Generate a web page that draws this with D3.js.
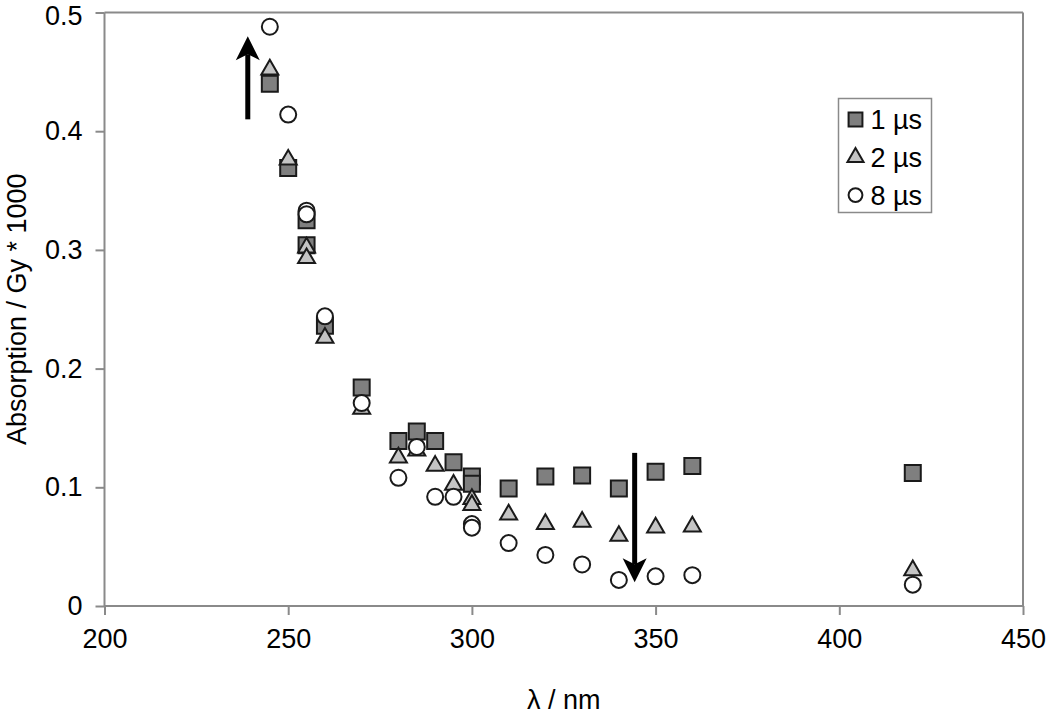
<!DOCTYPE html>
<html>
<head>
<meta charset="utf-8">
<script src="https://cdn.jsdelivr.net/npm/d3@7"></script>
<style>
  body { margin: 0; background: #fff; }
  text { font-family: "Liberation Sans", Arial, sans-serif; fill: #000; }
</style>
</head>
<body>
<div id="chart"></div>
<script>
// wavelengths (nm), duplicates at 255 and 300 are repeat measurements
const lambdas = [245, 250, 255, 255, 260, 270, 280, 285, 290, 295, 300, 300, 310, 320, 330, 340, 350, 360, 420];
const abs1us = [0.440, 0.369, 0.325, 0.304, 0.236, 0.184, 0.139, 0.147, 0.139, 0.121, 0.109, 0.103, 0.099, 0.109, 0.110, 0.099, 0.113, 0.118, 0.112];
const abs2us = [0.452, 0.376, 0.302, 0.293, 0.226, 0.166, 0.125, 0.131, 0.118, 0.102, 0.090, 0.085, 0.077, 0.069, 0.071, 0.059, 0.066, 0.067, 0.030];
const abs8us = [0.488, 0.414, 0.333, 0.330, 0.244, 0.171, 0.108, 0.134, 0.092, 0.092, 0.069, 0.066, 0.053, 0.043, 0.035, 0.022, 0.025, 0.026, 0.018];
const seriesNames = ["1 µs", "2 µs", "8 µs"];
const xTicks = [200, 250, 300, 350, 400, 450];
const yTicks = [0, 0.1, 0.2, 0.3, 0.4, 0.5];
// trend arrows: [lambda, from, to]
const arrows = [[239, 0.410, 0.480], [344.3, 0.129, 0.020]];

const W = 1050, H = 714;
const margin = {top: 12.5, right: 27, bottom: 108, left: 104.5};
const width = W - margin.left - margin.right,
      height = H - margin.top - margin.bottom;
const fontSize = "27px";

const svg = d3.select("#chart").append("svg")
    .attr("width", W)
    .attr("height", H);

const g = svg.append("g")
    .attr("transform", "translate(" + margin.left + "," + margin.top + ")");

const x = d3.scaleLinear().domain([200, 450]).range([0, width]);
const y = d3.scaleLinear().domain([0, 0.5]).range([height, 0]);

const axisColor = "#8a8a8a";

// frame (top and right)
g.append("line").attr("x1", 0).attr("x2", width).attr("y1", 0).attr("y2", 0)
    .style("stroke", axisColor).style("stroke-width", 2);
g.append("line").attr("x1", width).attr("x2", width).attr("y1", 0).attr("y2", height)
    .style("stroke", axisColor).style("stroke-width", 2);

const xAxis = d3.axisBottom(x).tickValues(xTicks).tickSize(9).tickPadding(14)
    .tickFormat(d3.format("d"));
const yAxis = d3.axisLeft(y).tickValues(yTicks).tickSize(9).tickPadding(13)
    .tickFormat(d => d === 0 ? "0" : d.toFixed(1));

const gx = g.append("g").attr("transform", "translate(0," + height + ")").call(xAxis);
const gy = g.append("g").call(yAxis);

[gx, gy].forEach(a => {
    a.select(".domain").style("stroke", axisColor).style("stroke-width", 2);
    a.selectAll(".tick line").style("stroke", axisColor).style("stroke-width", 2);
    a.selectAll(".tick text").style("font-size", fontSize).style("fill", "#000");
});
gx.select(".domain").attr("d", "M0,0H" + width);
gy.select(".domain").attr("d", "M0," + height + "V0");
// top label sits right at the edge, nudge it down a little
gy.selectAll(".tick text").filter(d => d === 0.5).attr("y", 3);

// axis titles
svg.append("text")
    .attr("x", margin.left + width / 2)
    .attr("y", 709)
    .style("text-anchor", "middle")
    .style("font-size", fontSize)
    .text("λ / nm");

svg.append("text")
    .attr("transform", "translate(26," + (margin.top + height / 2) + ") rotate(-90)")
    .style("text-anchor", "middle")
    .style("font-size", fontSize)
    .text("Absorption / Gy * 1000");

// markers
const sq = 16;
const markerStyles = [
    {shape: d3.symbolSquare, size: sq * sq, fill: "#7f7f7f"},
    {shape: d3.symbolTriangle, size: 125, fill: "#c4c4c4"},
    {shape: d3.symbolCircle, size: Math.PI * 8 * 8, fill: "#ffffff"}
];
const seriesData = [abs1us, abs2us, abs8us];

seriesData.forEach((vals, si) => {
    const st = markerStyles[si];
    const pts = lambdas.map((l, i) => ({l: l, v: vals[i]}));
    g.append("g").selectAll("path")
        .data(pts)
        .enter().append("path")
        .attr("transform", d => "translate(" + x(d.l) + "," + y(d.v) + ")")
        .attr("d", d3.symbol().type(st.shape).size(st.size))
        .style("fill", st.fill)
        .style("stroke", "#1a1a1a")
        .style("stroke-width", 2);
});

// arrows
arrows.forEach(a => {
    const ax = x(a[0]), y0 = y(a[1]), y1 = y(a[2]);
    const dir = y1 < y0 ? -1 : 1;
    const headH = 24, headW = 12, notch = 6;
    g.append("line")
        .attr("x1", ax).attr("x2", ax)
        .attr("y1", y0).attr("y2", y1 - dir * (headH - notch))
        .style("stroke", "#000").style("stroke-width", 5);
    g.append("path")
        .attr("d", "M" + ax + "," + y1 +
            "L" + (ax + headW) + "," + (y1 - dir * headH) +
            "L" + ax + "," + (y1 - dir * (headH - notch)) +
            "L" + (ax - headW) + "," + (y1 - dir * headH) + "Z")
        .style("fill", "#000");
});

// legend
const legend = svg.append("g").attr("transform", "translate(838.5,98.5)");
legend.append("rect")
    .attr("width", 93).attr("height", 114)
    .style("fill", "#fff")
    .style("stroke", axisColor).style("stroke-width", 1.5);

const legendItems = legend.selectAll(".legend")
    .data(seriesNames)
    .enter().append("g")
    .attr("class", "legend")
    .attr("transform", (d, i) => "translate(17," + (21 + i * 37.8) + ")");

legendItems.append("path")
    .attr("d", (d, i) => {
        const st = markerStyles[i];
        const scale = i === 0 ? 0.75 : (i === 1 ? 0.9 : 0.75);
        return d3.symbol().type(st.shape).size(st.size * scale)();
    })
    .style("fill", (d, i) => markerStyles[i].fill)
    .style("stroke", "#1a1a1a")
    .style("stroke-width", 2);

legendItems.append("text")
    .attr("x", 15)
    .attr("dy", "0.36em")
    .style("font-size", fontSize)
    .text(d => d);
</script>
</body>
</html>
